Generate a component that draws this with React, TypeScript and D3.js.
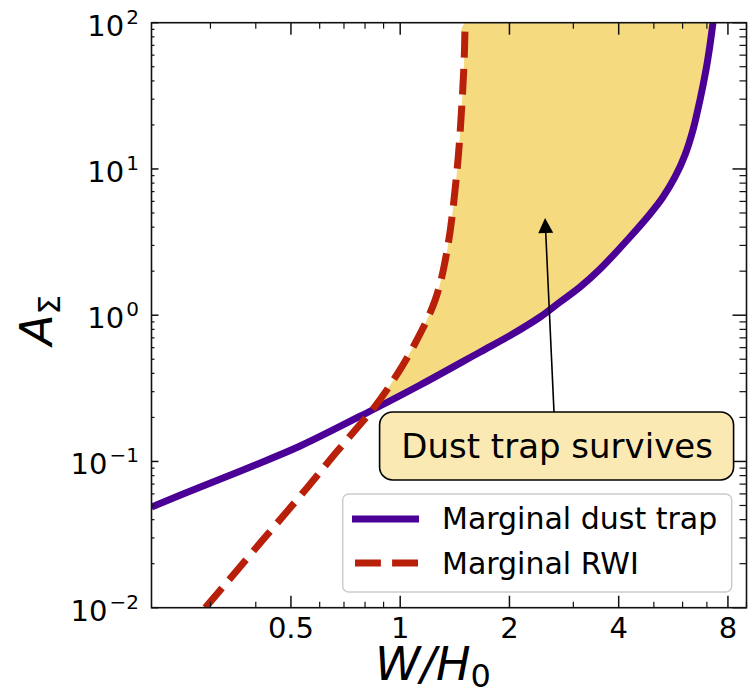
import React from "react";
import * as d3 from "d3";

// marginal dust trap (solid purple)
const dustW = [0.2064, 0.2816, 0.3865, 0.5301, 0.8374, 1.1352, 1.6608, 2.0085, 2.4294, 2.7576, 3.1302, 3.554, 4.2983, 4.8797, 5.2988, 5.7177, 6.0912, 6.408, 6.7, 6.96, 7.1386, 7.275];
const dustA = [0.0488, 0.0669, 0.0917, 0.1275, 0.2248, 0.3332, 0.5603, 0.7264, 0.9721, 1.2311, 1.559, 2.0701, 3.425, 4.9204, 6.4313, 8.8105, 12.457, 18.466, 29.62, 47.5, 70.39, 100];

// marginal RWI (dashed red)
const rwiW = [0.2903, 0.3128, 0.4202, 0.5535, 0.6695, 0.7922, 0.8374, 0.9385, 1.0859, 1.2484, 1.3472, 1.4354, 1.4816, 1.5005, 1.51];
const rwiA = [0.01, 0.01241, 0.02949, 0.06585, 0.1169, 0.1905, 0.2248, 0.3332, 0.6063, 1.27, 2.7913, 9.993, 29.62, 55.59, 100];

const xMajor = [0.5, 1, 2, 4, 8];
const xMajorLabels = ["0.5", "1", "2", "4", "8"];
const xMinor = [0.3, 0.4, 0.6, 0.7, 0.8, 0.9, 3, 5, 6, 7, 9];
const yExp = [-2, -1, 0, 1, 2];

const legendLabels = ["Marginal dust trap", "Marginal RWI"];
const noteText = "Dust trap survives";
const noteTip = [2.507, 4.62];
const noteAt = [2.706, 0.1276];

const PURPLE = "#4b0096";
const RED = "#b8200a";
const FILL = "#f6da80";
const FONT = "DejaVu Sans";

export default function App() {
  const width = 749;
  const height = 694;
  const left = 151.5, right = 746.5, top = 22.7, bottom = 607.7;

  const x = d3.scaleLog().domain([0.2064, 9.0]).range([left, right]);
  const y = d3.scaleLog().domain([0.01, 100]).range([bottom, top]);

  const yMinor: number[] = [];
  for (let e = -2; e < 2; e++) for (let k = 2; k <= 9; k++) yMinor.push(k * Math.pow(10, e));

  const dust = dustW.map((w, i) => [x(w), y(dustA[i])] as [number, number]);
  const rwi = rwiW.map((w, i) => [x(w), y(rwiA[i])] as [number, number]);

  const line = d3.line().curve(d3.curveCatmullRom.alpha(0.5));

  const cross = 0.2248;
  const fillPts = [
    ...rwi.filter((_, i) => rwiA[i] >= cross),
    ...dust.filter((_, i) => dustA[i] >= cross).reverse(),
  ];
  const fillPath = line(fillPts as [number, number][]) + "Z";

  // arrow
  const tipX = x(noteTip[0]), tipY = y(noteTip[1]);
  const boxCx = x(noteAt[0]), boxCy = y(noteAt[1]);
  const boxW = 354, boxH = 68;
  const tailX = 554, tailY = boxCy - boxH / 2;
  const ang = Math.atan2(tipY - tailY, tipX - tailX);
  const hl = 15, hw = 7.5;
  const bx = tipX - hl * Math.cos(ang), by = tipY - hl * Math.sin(ang);
  const head = [
    [tipX, tipY],
    [bx + hw * Math.sin(ang), by - hw * Math.cos(ang)],
    [bx - hw * Math.sin(ang), by + hw * Math.cos(ang)],
  ];

  const tickCol = "#111";

  return (
    <svg width={width} height={height} style={{ position: "absolute", left: 0, top: 0 }} fontFamily={FONT}>
      <rect width={width} height={height} fill="white" />
      <defs>
        <clipPath id="plot">
          <rect x={left} y={top} width={right - left} height={bottom - top} />
        </clipPath>
      </defs>

      <g clipPath="url(#plot)">
        <path d={fillPath} fill={FILL} stroke="none" />
        <path d={line(dust) as string} fill="none" stroke={PURPLE} strokeWidth={7} />
        <path d={line(rwi) as string} fill="none" stroke={RED} strokeWidth={7} strokeDasharray="25.9 11.2" />
      </g>

      {/* ticks, pointing inward */}
      {xMajor.map((v) => (
        <g key={"xM" + v}>
          <line x1={x(v)} x2={x(v)} y1={bottom} y2={bottom - 12} stroke={tickCol} strokeWidth={1.5} />
          <line x1={x(v)} x2={x(v)} y1={top} y2={top + 12} stroke={tickCol} strokeWidth={1.5} />
        </g>
      ))}
      {xMinor.map((v) => (
        <g key={"xm" + v}>
          <line x1={x(v)} x2={x(v)} y1={bottom} y2={bottom - 6} stroke={tickCol} strokeWidth={1.2} />
          <line x1={x(v)} x2={x(v)} y1={top} y2={top + 6} stroke={tickCol} strokeWidth={1.2} />
        </g>
      ))}
      {yExp.map((e) => (
        <g key={"yM" + e}>
          <line x1={left} x2={left + 7} y1={y(Math.pow(10, e))} y2={y(Math.pow(10, e))} stroke={tickCol} strokeWidth={1.5} />
          <line x1={right} x2={right - 14} y1={y(Math.pow(10, e))} y2={y(Math.pow(10, e))} stroke={tickCol} strokeWidth={1.5} />
        </g>
      ))}
      {yMinor.map((v, i) => (
        <g key={"ym" + i}>
          <line x1={left} x2={left + 3} y1={y(v)} y2={y(v)} stroke={tickCol} strokeWidth={1.2} />
          <line x1={right} x2={right - 7} y1={y(v)} y2={y(v)} stroke={tickCol} strokeWidth={1.2} />
        </g>
      ))}

      <rect x={left} y={top} width={right - left} height={bottom - top} fill="none" stroke="#111" strokeWidth={1.6} />

      {/* tick labels */}
      {xMajor.map((v, i) => (
        <text key={"xl" + v} x={x(v)} y={638} fontSize={29} textAnchor="middle" fill="black">
          {xMajorLabels[i]}
        </text>
      ))}
      {yExp.map((e) => (
        <text key={"yl" + e} x={139} y={y(Math.pow(10, e)) + 13} fontSize={29} textAnchor="end" fill="black">
          <tspan>10</tspan>
          <tspan dx={2} dy={-12} fontSize={20}>{e < 0 ? "\u2212" + Math.abs(e) : String(e)}</tspan>
        </text>
      ))}

      {/* axis labels */}
      <text x={433} y={680} fontSize={46} textAnchor="middle" fill="black">
        <tspan fontStyle="italic">W</tspan>
        <tspan fontStyle="italic">/</tspan>
        <tspan fontStyle="italic">H</tspan>
        <tspan dy={7} fontSize={32}>0</tspan>
      </text>
      <text transform={`translate(52, 320) rotate(-90)`} fontSize={45} textAnchor="middle" fill="black">
        <tspan fontStyle="italic">A</tspan>
        <tspan dy={8} fontSize={31}>Σ</tspan>
      </text>

      {/* annotation */}
      <line x1={tailX} y1={tailY} x2={bx} y2={by} stroke="black" strokeWidth={1.6} />
      <polygon points={head.map((p) => p.join(",")).join(" ")} fill="black" />
      <rect x={boxCx - boxW / 2 - 0.5} y={boxCy - boxH / 2} width={boxW} height={boxH} rx={13} fill="#fbe9b4" stroke="black" strokeWidth={1.6} />
      <text x={boxCx} y={boxCy + 12} fontSize={34} textAnchor="middle" fill="black">{noteText}</text>

      {/* legend */}
      <rect x={342.7} y={494} width={389} height={98} rx={6} fill="white" fillOpacity={0.8} stroke="#cccccc" strokeWidth={1.5} />
      <line x1={352} x2={419} y1={519} y2={519} stroke={PURPLE} strokeWidth={7} />
      <line x1={355} x2={419} y1={563} y2={563} stroke={RED} strokeWidth={7} strokeDasharray="25.9 11.2" />
      <text x={442} y={529} fontSize={30} fill="black">{legendLabels[0]}</text>
      <text x={442} y={574} fontSize={30} fill="black">{legendLabels[1]}</text>
    </svg>
  );
}
